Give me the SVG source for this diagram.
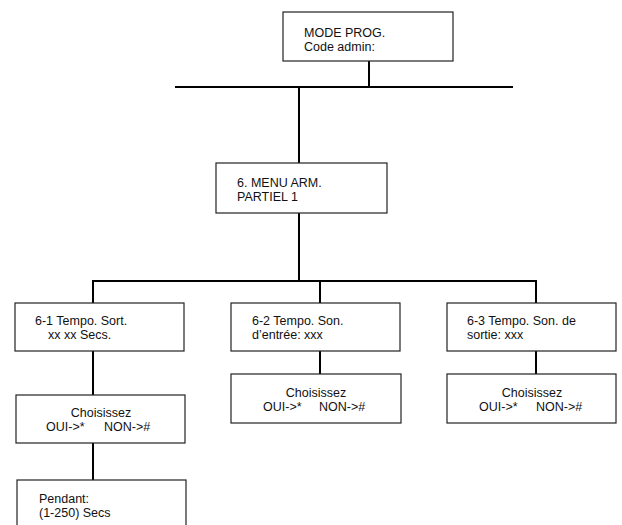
<svg xmlns="http://www.w3.org/2000/svg" width="622" height="525" viewBox="0 0 622 525">
<style>
.box{fill:#fff;stroke:#222;stroke-width:1.2}
.t{font-family:"Liberation Sans",Arial,sans-serif;font-size:12.5px;fill:#111}
.c{text-anchor:middle}
.ln{stroke:#000;stroke-width:2;fill:none}
</style>
<rect width="622" height="525" fill="#fff"/>
<g id="connectors">
<line class="ln" x1="369" y1="61" x2="369" y2="87"/>
<line class="ln" x1="175" y1="87" x2="513" y2="87"/>
<line class="ln" x1="299" y1="87" x2="299" y2="163"/>
<line class="ln" x1="299" y1="213" x2="299" y2="281"/>
<polyline class="ln" points="93,303 93,281 536,281 536,303"/>
<line class="ln" x1="320" y1="281" x2="320" y2="303"/>
<line class="ln" x1="93" y1="351" x2="93" y2="395"/>
<line class="ln" x1="93" y1="443" x2="93" y2="480"/>
<line class="ln" x1="320" y1="351" x2="320" y2="374"/>
<line class="ln" x1="536" y1="351" x2="536" y2="374"/>
</g>
<g id="mode-prog">
<rect class="box" x="283" y="12" width="170" height="49"/>
<text class="t" x="304" y="37">MODE PROG.</text>
<text class="t" x="304" y="51">Code admin:</text>
</g>
<g id="menu-arm">
<rect class="box" x="216" y="163" width="171" height="50"/>
<text class="t" x="237" y="187">6. MENU ARM.</text>
<text class="t" x="237" y="201">PARTIEL 1</text>
</g>
<g id="n6-1">
<rect class="box" x="15" y="303" width="169" height="48"/>
<text class="t" x="35" y="325">6-1 Tempo. Sort.</text>
<text class="t" x="48" y="339">xx xx Secs.</text>
</g>
<g id="n6-2">
<rect class="box" x="231" y="303" width="169" height="48"/>
<text class="t" x="252" y="325">6-2 Tempo. Son.</text>
<text class="t" x="252" y="339">d’entrée: xxx</text>
</g>
<g id="n6-3">
<rect class="box" x="447" y="303" width="169" height="48"/>
<text class="t" x="467" y="325">6-3 Tempo. Son. de</text>
<text class="t" x="467" y="339">sortie: xxx</text>
</g>
<g id="choix-1">
<rect class="box" x="16" y="395" width="169" height="48"/>
<text class="t c" x="101" y="417">Choisissez</text>
<text class="t" y="431"><tspan x="46">OUI-&gt;*</tspan><tspan x="104">NON-&gt;#</tspan></text>
</g>
<g id="choix-2">
<rect class="box" x="231" y="374" width="170" height="49"/>
<text class="t c" x="316" y="397">Choisissez</text>
<text class="t" y="411"><tspan x="263">OUI-&gt;*</tspan><tspan x="319">NON-&gt;#</tspan></text>
</g>
<g id="choix-3">
<rect class="box" x="447" y="374" width="169" height="49"/>
<text class="t c" x="532" y="397">Choisissez</text>
<text class="t" y="411"><tspan x="479">OUI-&gt;*</tspan><tspan x="536">NON-&gt;#</tspan></text>
</g>
<g id="pendant">
<rect class="box" x="17" y="480" width="169" height="60"/>
<text class="t" x="39" y="503">Pendant:</text>
<text class="t" x="39" y="517">(1-250) Secs</text>
</g>
</svg>
